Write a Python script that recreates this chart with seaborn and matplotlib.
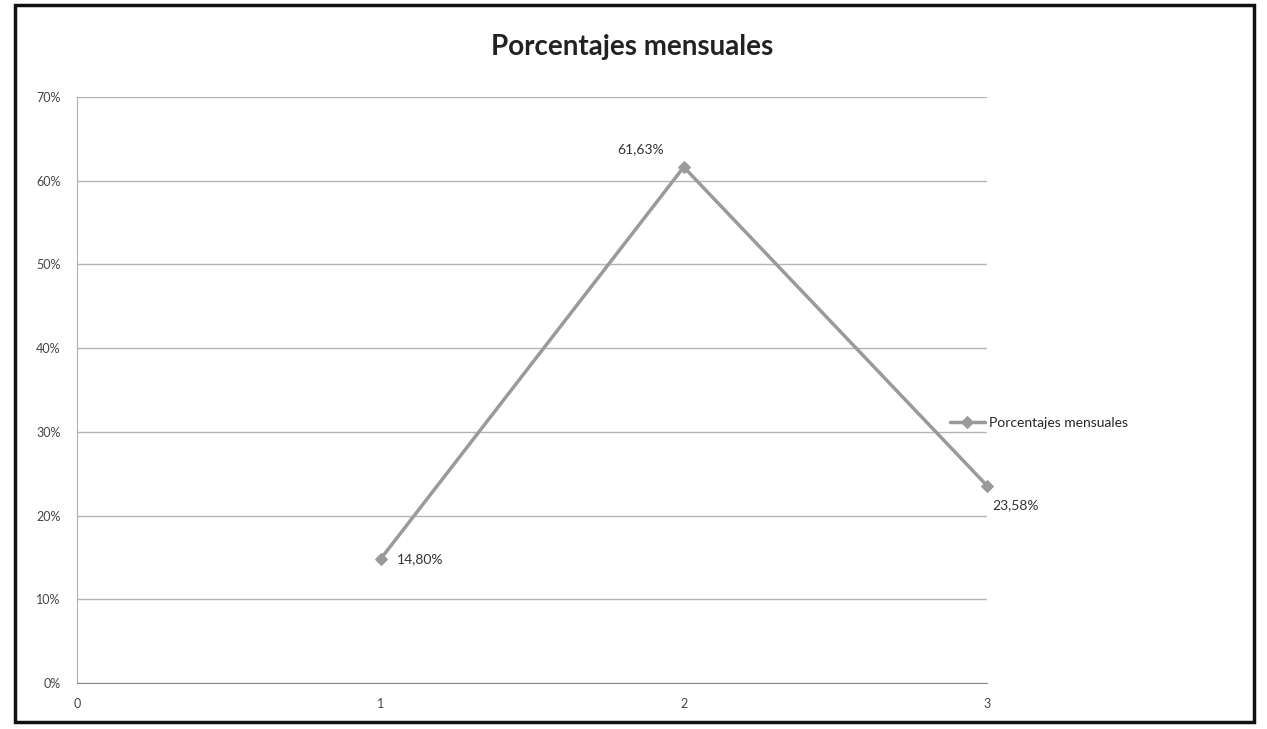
import pandas as pd
import numpy as np
import matplotlib.pyplot as plt
import seaborn as sns
from matplotlib.patches import Rectangle

# Data
meses = [1, 2, 3]
porcentajes = [14.80, 61.63, 23.58]
serie = "Porcentajes mensuales"

df = pd.DataFrame({"mes": meses, "pct": porcentajes, "serie": serie})

sns.set_style("white")
plt.rcParams['font.family'] = ['Lato', 'DejaVu Sans']

fig = plt.figure(figsize=(12.67, 7.29), dpi=100)
ax = fig.add_axes([0.061, 0.063, 0.718, 0.804])

gris = "#9a9a9a"

sns.lineplot(data=df, x="mes", y="pct", hue="serie", palette=[gris],
             marker="D", markersize=6, linewidth=2.5, markeredgecolor=gris,
             ax=ax, clip_on=False)

ax.set_xlim(0, 3)
ax.set_ylim(0, 70)
ax.set_xticks([0, 1, 2, 3])
ax.set_yticks(np.arange(0, 71, 10))
ax.set_yticklabels([f"{v}%" for v in range(0, 71, 10)])
ax.grid(axis="y", color="#b5b5b5", linewidth=1)
ax.set_axisbelow(True)
ax.set_xlabel("")
ax.set_ylabel("")

for side in ["top", "right"]:
    ax.spines[side].set_visible(False)
ax.spines["left"].set_color("#b0b0b0")
ax.spines["bottom"].set_color("#8a8a8a")
ax.tick_params(axis="both", labelsize=9, colors="#444444", length=0)
ax.tick_params(axis="x", length=5, direction="out", color="#8a8a8a", pad=6)
ax.tick_params(axis="y", pad=12)

# data labels
fmt = lambda v: f"{v:.2f}".replace(".", ",") + "%"
ax.annotate(fmt(porcentajes[0]), (meses[0], porcentajes[0]), xytext=(12, 0),
            textcoords="offset points", fontsize=10, color="#333333", va="center")
ax.annotate(fmt(porcentajes[1]), (meses[1], porcentajes[1]), xytext=(-14, 10),
            textcoords="offset points", fontsize=10, color="#333333", ha="right")
ax.annotate(fmt(porcentajes[2]), (meses[2], porcentajes[2]), xytext=(4, -14),
            textcoords="offset points", fontsize=10, color="#333333", ha="left", va="center")

ax.set_title(serie, fontsize=20, fontweight="bold", color="#222222", pad=30,
             x=0.61)

leg = ax.legend(loc="center left", bbox_to_anchor=(0.74, 0.42), bbox_transform=fig.transFigure,
                frameon=False, fontsize=10, handlelength=2.5, handletextpad=0.3)

# chart border
fig.patches.append(Rectangle((0.012, 0.01), 0.978, 0.983, transform=fig.transFigure,
                             fill=False, edgecolor="#111111", linewidth=2.5))

plt.savefig("out.png", dpi=100)
